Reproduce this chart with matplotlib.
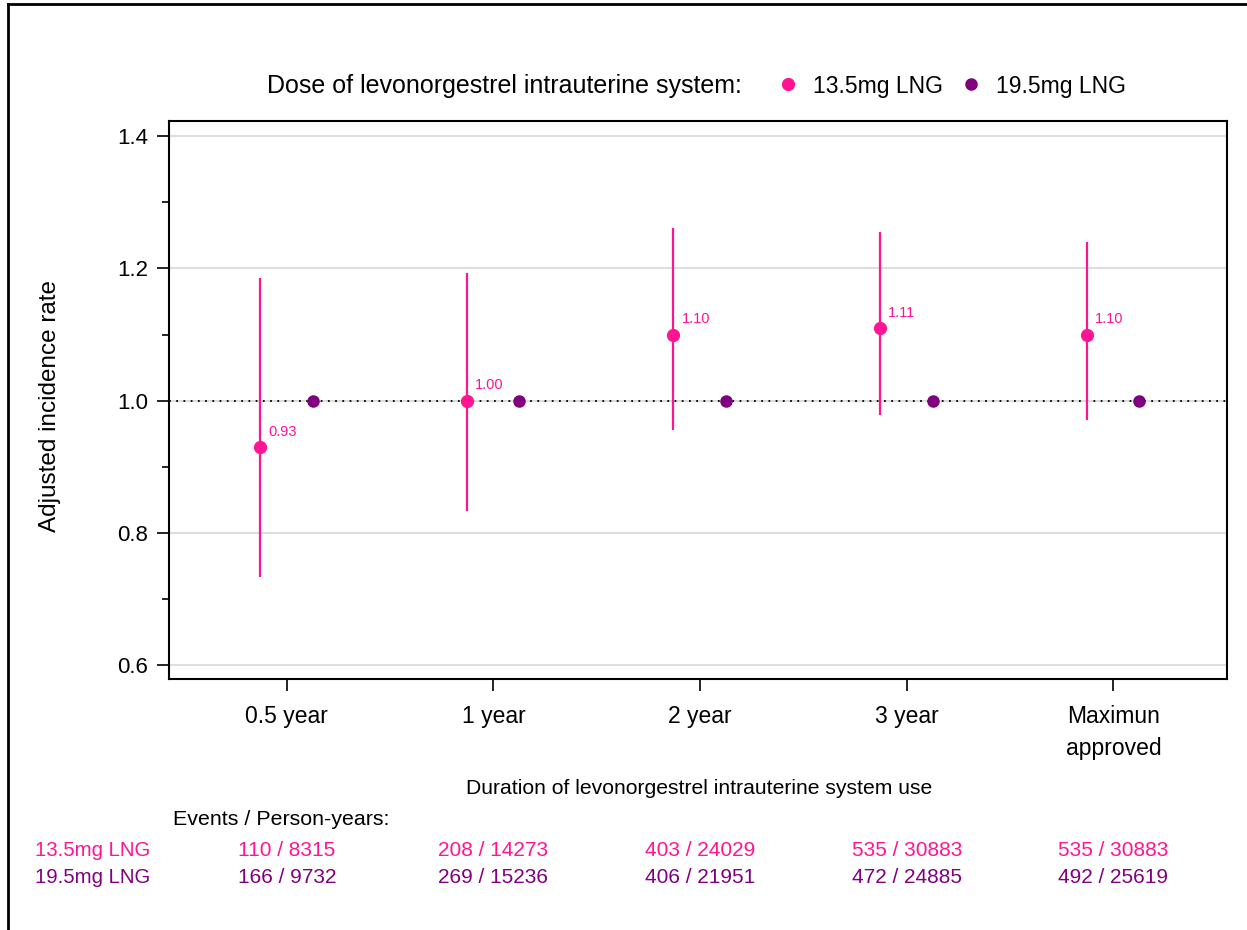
import matplotlib
matplotlib.use("Agg")
import matplotlib.pyplot as plt
from matplotlib.lines import Line2D
from matplotlib.transforms import blended_transform_factory

plt.rcParams['font.family'] = ['Liberation Sans', 'DejaVu Sans']

# datos
categorias = ["0.5 year", "1 year", "2 year", "3 year", "Maximun\napproved"]
irr_135 = [0.93, 1.00, 1.10, 1.11, 1.10]
ic_bajo_135 = [0.733, 0.833, 0.955, 0.979, 0.971]
ic_alto_135 = [1.185, 1.193, 1.261, 1.255, 1.240]
irr_195 = [1.0, 1.0, 1.0, 1.0, 1.0]
eventos_135 = ["110 / 8315", "208 / 14273", "403 / 24029", "535 / 30883", "535 / 30883"]
eventos_195 = ["166 / 9732", "269 / 15236", "406 / 21951", "472 / 24885", "492 / 25619"]

rosa = "#FF1493"
morado = "#800080"

fig = plt.figure(figsize=(12.47, 9.3), dpi=100)
ax = fig.add_axes([0.1355, 0.2699, 0.8485, 0.6])

xs = list(range(1, len(categorias) + 1))
x_rosa = [x - 0.13 for x in xs]
x_morado = [x + 0.125 for x in xs]

# referencia en 1
ax.axhline(1.0, color="black", linestyle=(0, (1, 3)), linewidth=1.3, zorder=2)

# 13.5mg con intervalos
err = [[v - lo for v, lo in zip(irr_135, ic_bajo_135)],
       [hi - v for v, hi in zip(irr_135, ic_alto_135)]]
ax.errorbar(x_rosa, irr_135, yerr=err, fmt="o", color=rosa, ms=8.5,
            elinewidth=1.6, capsize=0, zorder=3)
ax.plot(x_morado, irr_195, "o", color=morado, ms=8, zorder=3)

for x, v in zip(x_rosa, irr_135):
    ax.annotate(f"{v:.2f}", (x, v), xytext=(6, 6), textcoords="offset points",
                color=rosa, fontsize=10.5, ha="left", va="bottom")

ax.set_xlim(0.43, 5.55)
ax.set_ylim(0.579, 1.423)
ax.set_xticks(xs)
ax.set_xticklabels(categorias, fontsize=16.5, linespacing=1.5)
ax.set_yticks([0.6, 0.8, 1.0, 1.2, 1.4])
ax.set_yticklabels(["0.6", "0.8", "1.0", "1.2", "1.4"], fontsize=16)
ax.set_yticks([0.7, 0.9, 1.1, 1.3], minor=True)
ax.tick_params(axis="y", which="major", length=8.5, width=1.2, pad=6.5)
ax.tick_params(axis="y", which="minor", length=5, width=1.2)
ax.tick_params(axis="x", length=8.6, width=1.2, pad=10)
ax.yaxis.grid(True, which="major", color="#dedede", linewidth=1.5)
ax.set_axisbelow(True)
for s in ax.spines.values():
    s.set_linewidth(1.5)

ax.set_ylabel("Adjusted incidence rate", fontsize=17.5)
ax.yaxis.set_label_coords(-0.102, 0.49)

fig.text(0.5605, 1 - 788 / 930, "Duration of levonorgestrel intrauterine system use",
         ha="center", va="center", fontsize=15.2)

# leyenda arriba
fig.text(267 / 1247, 1 - 86 / 930, "Dose of levonorgestrel intrauterine system:",
         ha="left", va="center", fontsize=18)
handles = [Line2D([], [], marker="o", linestyle="", color=rosa, ms=8.5),
           Line2D([], [], marker="o", linestyle="", color=morado, ms=8)]
ax.legend(handles, ["13.5mg LNG", "19.5mg LNG"], ncol=2, frameon=False,
          loc="center left", bbox_to_anchor=(776.5 / 1247, 1 - 86 / 930),
          bbox_transform=fig.transFigure, fontsize=16.5, handlelength=1,
          handletextpad=0.59, columnspacing=0.72, borderpad=0, borderaxespad=0)

# tabla de eventos
fig.text(173 / 1247, 1 - 819 / 930, "Events / Person-years:", ha="left",
         va="center", fontsize=15.4)
fig.text(35 / 1247, 1 - 850 / 930, "13.5mg LNG", ha="left", va="center",
         fontsize=14.7, color=rosa)
fig.text(35 / 1247, 1 - 877 / 930, "19.5mg LNG", ha="left", va="center",
         fontsize=14.7, color=morado)
trans = blended_transform_factory(ax.transData, fig.transFigure)
for x, a, b in zip(xs, eventos_135, eventos_195):
    fig.text(x, 1 - 850 / 930, a, ha="center", va="center", fontsize=15,
             color=rosa, transform=trans)
    fig.text(x, 1 - 877 / 930, b, ha="center", va="center", fontsize=15,
             color=morado, transform=trans)

# marco de la figura (solo arriba e izquierda)
fig.add_artist(Line2D([7.5 / 1247, 7.5 / 1247], [0, 1 - 4.5 / 930],
                      transform=fig.transFigure, color="black", linewidth=2))
fig.add_artist(Line2D([7.5 / 1247, 1], [1 - 4.5 / 930, 1 - 4.5 / 930],
                      transform=fig.transFigure, color="black", linewidth=2))

fig.savefig("out.png", dpi=100)
